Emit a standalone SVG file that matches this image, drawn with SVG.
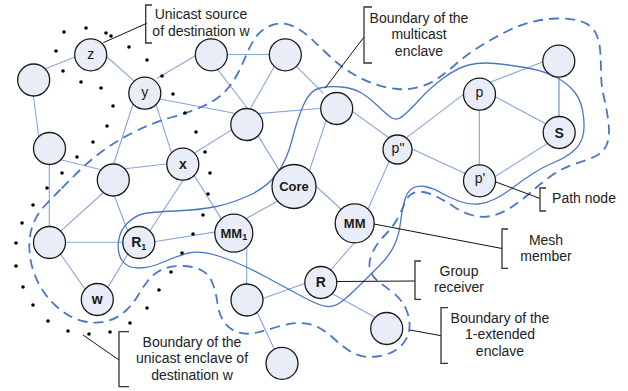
<svg xmlns="http://www.w3.org/2000/svg" width="628" height="391" viewBox="0 0 628 391">
  <style>
    .edge { stroke: #86a5da; stroke-width: 1.1; fill: none; stroke-linecap: round; }
    .edge-thick { stroke: #a7bde4; stroke-width: 2; fill: none; }
    .node { fill: #e8edf7; stroke: #1a1a1a; stroke-width: 1.3; }
    .lbl { font-family: "Liberation Sans", Arial, sans-serif; font-size: 14px; fill: #1a1a1a; text-anchor: middle; }
    .b { font-weight: bold; }
    .b13 { font-weight: bold; font-size: 13px; }
    .note { font-family: "Liberation Sans", Arial, sans-serif; font-size: 14px; fill: #222; text-anchor: middle; }
    .bracket { stroke: #333; stroke-width: 1.3; fill: none; }
    .pointer { stroke: #111; stroke-width: 1; fill: none; }
    .mc { stroke: #4a77c4; stroke-width: 1.3; fill: none; }
    .ext { stroke: #4a77c4; stroke-width: 1.8; fill: none; stroke-dasharray: 10 6; }
    .dot { fill: #000; }
  </style>

  <!-- links between nodes -->
  <g id="connectors">
    <line class="edge" x1="41.3" y1="70.5" x2="79" y2="55.2"/>
    <line class="edge" x1="32.8" y1="92" x2="38.8" y2="136.7"/>
    <line class="edge" x1="103.7" y1="54" x2="138" y2="84.3"/>
    <line class="edge" x1="157.6" y1="78" x2="200.1" y2="53"/>
    <line class="edge" x1="223" y1="54.5" x2="273.5" y2="54.5"/>
    <line class="edge" x1="214.3" y1="65.1" x2="250.7" y2="112.5"/>
    <line class="edge" x1="275.3" y1="64.8" x2="248" y2="112.8"/>
    <line class="edge" x1="293.9" y1="63.9" x2="322.8" y2="92.8"/>
    <line class="edge" x1="156" y1="98.2" x2="237" y2="113.8"/>
    <line class="edge" x1="257.7" y1="113.6" x2="325.7" y2="108"/>
    <line class="edge" x1="256.2" y1="132.6" x2="279.6" y2="170.9"/>
    <line class="edge" x1="193.3" y1="153.8" x2="240.1" y2="124.6"/>
    <line class="edge" x1="326.3" y1="120.2" x2="308.7" y2="172.8"/>
    <line class="edge" x1="348.5" y1="108.6" x2="390.7" y2="139"/>
    <line class="edge" x1="155.5" y1="102.9" x2="172.9" y2="157.1"/>
    <line class="edge" x1="132.9" y1="104.5" x2="112.1" y2="168.8"/>
    <line class="edge" x1="57.8" y1="159" x2="102.2" y2="170"/>
    <line class="edge" x1="125" y1="168.8" x2="170.7" y2="163.5"/>
    <line class="edge" x1="49.3" y1="160" x2="49.3" y2="230"/>
    <line class="edge" x1="111.9" y1="189.6" x2="128.1" y2="232"/>
    <line class="edge" x1="185.5" y1="176.7" x2="147.8" y2="234"/>
    <line class="edge" x1="192.9" y1="173.3" x2="222.1" y2="220.1"/>
    <line class="edge" x1="57" y1="234.4" x2="106.3" y2="190"/>
    <line class="edge" x1="62" y1="242.3" x2="126" y2="242.3"/>
    <line class="edge" x1="57.7" y1="250" x2="85.6" y2="290"/>
    <line class="edge" x1="130.4" y1="249.9" x2="106.2" y2="290.1"/>
    <line class="edge" x1="151" y1="242.3" x2="219" y2="231.4"/>
    <line class="edge" x1="243.2" y1="220.2" x2="280.2" y2="199.8"/>
    <line class="edge" x1="246.7" y1="246" x2="246.7" y2="290"/>
    <line class="edge" x1="313.5" y1="184" x2="342" y2="210"/>
    <line class="edge" x1="389.9" y1="159.6" x2="366.7" y2="212"/>
    <line class="edge" x1="357.6" y1="239" x2="328.9" y2="272"/>
    <line class="edge" x1="308.8" y1="282" x2="259.5" y2="299.7"/>
    <line class="edge" x1="328.2" y1="291.4" x2="378.5" y2="319.2"/>
    <line class="edge" x1="256.6" y1="311.4" x2="275.7" y2="351.9"/>
    <line class="edge" x1="406.8" y1="137.4" x2="468.2" y2="90.9"/>
    <line class="edge" x1="411.4" y1="148.8" x2="468.6" y2="175"/>
    <line class="edge" x1="488" y1="83.1" x2="547" y2="60.3"/>
    <line class="edge" x1="491.5" y1="94.8" x2="548.5" y2="125.2"/>
    <line class="edge" x1="479.3" y1="106" x2="479.3" y2="169"/>
    <line class="edge-thick" x1="559" y1="73" x2="559" y2="120"/>
    <line class="edge" x1="550.1" y1="141.9" x2="491.6" y2="178.8"/>
  </g>

  <!-- enclave boundaries -->
  <g id="boundaries">
    <path id="multicast-enclave" class="mc" d="M142.5,214 Q150,212 175,211 Q200,210 216.5,206.5 Q233,203 250,195 Q267,187 277,173.5 Q287,160 292,140 Q297,120 303.5,105 Q310,90 320,88 Q330,86 341.5,87 Q353,88 361.5,93 Q370,98 378.5,106.5 Q387,115 392,118 Q397,121 403.5,115.5 Q410,110 420,99 Q430,88 443.5,78 Q457,68 468.5,65 Q480,62 495,63.5 Q510,65 525,67.5 Q540,70 551.5,75 Q563,80 571.5,88.5 Q580,97 582.5,110 Q585,123 583.5,133 Q582,143 574.5,150 Q567,157 555,162 Q543,167 533,173.5 Q523,180 513,187.5 Q503,195 495,199 Q487,203 478.5,204 Q470,205 460,201.5 Q450,198 441.5,193 Q433,188 425,186.5 Q417,185 412,188.5 Q407,192 404.5,201 Q402,210 400.5,222.5 Q399,235 394.5,245 Q390,255 380,265 Q370,275 360,285 Q350,295 342.5,301 Q335,307 327.5,306.5 Q320,306 305,298 Q290,290 265,276.5 Q240,263 220,256.5 Q200,250 188.5,253 Q177,256 163.5,262 Q150,268 138.5,268 Q127,268 122,260.5 Q117,253 118.5,241.5 Q120,230 127.5,223 Q135,216 142.5,214 Z"/>
    <path id="extended-enclave" class="ext" d="M60.5,189.5 Q53,197 44.5,206 Q36,215 32,227.5 Q28,240 30,256 Q32,272 40,286 Q48,300 60,309.5 Q72,319 84.5,321.5 Q97,324 107.5,321 Q118,318 125.5,311 Q133,304 138,295.5 Q143,287 148.5,280 Q154,273 162,269.5 Q170,266 181.5,266 Q193,266 201,270 Q209,274 212.5,283 Q216,292 217.5,303.5 Q219,315 224.5,322.5 Q230,330 238.5,332.5 Q247,335 257,332.5 Q267,330 278.5,326.5 Q290,323 300,323 Q310,323 318.5,327.5 Q327,332 335,339.5 Q343,347 351.5,352 Q360,357 370,357 Q380,357 389,353.5 Q398,350 403.5,343 Q409,336 409.5,327 Q410,318 406,309 Q402,300 394,293.5 Q386,287 379,282 Q372,277 370,269.5 Q368,262 372.5,252.5 Q377,243 385,235 Q393,227 397.5,218.5 Q402,210 404.5,203.5 Q407,197 411.5,194 Q416,191 423,192 Q430,193 437.5,197 Q445,201 453.5,206.5 Q462,212 471.5,215 Q481,218 491,216 Q501,214 511,207.5 Q521,201 530.5,192.5 Q540,184 551,176 Q562,168 575,164 Q588,160 596,156 Q604,152 607,144 Q610,136 608.5,123 Q607,110 604,97.5 Q601,85 601,72.5 Q601,60 600,49 Q599,38 594.5,31 Q590,24 580,21 Q570,18 556.5,18.5 Q543,19 530,22.5 Q517,26 503.5,33 Q490,40 477.5,48 Q465,56 456,64 Q447,72 438.5,78 Q430,84 419.5,87 Q409,90 397.5,89 Q386,88 374.5,84 Q363,80 351.5,73 Q340,66 330,56.5 Q320,47 311.5,39 Q303,31 295,27 Q287,23 279.5,23.5 Q272,24 265.5,28 Q259,32 254.5,39 Q250,46 246.5,54.5 Q243,63 238,73 Q233,83 225,91.5 Q217,100 203.5,106 Q190,112 171,117.5 Q152,123 135,131.5 Q118,140 104,150 Q90,160 79,171 Q68,182 60.5,189.5 Z"/>
    <g id="unicast-enclave">
      <circle class="dot" cx="64" cy="32" r="1.8"/>
      <circle class="dot" cx="86" cy="28" r="1.8"/>
      <circle class="dot" cx="106" cy="33" r="1.8"/>
      <circle class="dot" cx="111" cy="36" r="1.8"/>
      <circle class="dot" cx="129" cy="47" r="1.8"/>
      <circle class="dot" cx="147" cy="60" r="1.8"/>
      <circle class="dot" cx="162" cy="76" r="1.8"/>
      <circle class="dot" cx="173" cy="94" r="1.8"/>
      <circle class="dot" cx="185" cy="113" r="1.8"/>
      <circle class="dot" cx="196" cy="132" r="1.8"/>
      <circle class="dot" cx="205" cy="152" r="1.8"/>
      <circle class="dot" cx="210" cy="173" r="1.8"/>
      <circle class="dot" cx="208" cy="194" r="1.8"/>
      <circle class="dot" cx="203" cy="215" r="1.8"/>
      <circle class="dot" cx="193" cy="234" r="1.8"/>
      <circle class="dot" cx="182" cy="253" r="1.8"/>
      <circle class="dot" cx="171" cy="272" r="1.8"/>
      <circle class="dot" cx="159" cy="290" r="1.8"/>
      <circle class="dot" cx="147" cy="308" r="1.8"/>
      <circle class="dot" cx="130" cy="323" r="1.8"/>
      <circle class="dot" cx="110" cy="332" r="1.8"/>
      <circle class="dot" cx="89" cy="334" r="1.8"/>
      <circle class="dot" cx="68" cy="331" r="1.8"/>
      <circle class="dot" cx="48" cy="321" r="1.8"/>
      <circle class="dot" cx="33" cy="305" r="1.8"/>
      <circle class="dot" cx="23" cy="287" r="1.8"/>
      <circle class="dot" cx="16" cy="266" r="1.8"/>
      <circle class="dot" cx="16" cy="243" r="1.8"/>
      <circle class="dot" cx="22" cy="223" r="1.8"/>
      <circle class="dot" cx="33" cy="205" r="1.8"/>
      <circle class="dot" cx="47" cy="188" r="1.8"/>
      <circle class="dot" cx="62" cy="173" r="1.8"/>
      <circle class="dot" cx="77" cy="157" r="1.8"/>
      <circle class="dot" cx="93" cy="142" r="1.8"/>
      <circle class="dot" cx="107" cy="126" r="1.8"/>
      <circle class="dot" cx="113" cy="106" r="1.8"/>
      <circle class="dot" cx="101" cy="88" r="1.8"/>
      <circle class="dot" cx="81" cy="82" r="1.8"/>
      <circle class="dot" cx="63" cy="71" r="1.8"/>
      <circle class="dot" cx="56" cy="51" r="1.8"/>
    </g>
  </g>

  <!-- nodes -->
  <g id="node-a"><circle class="node" cx="33.7" cy="80" r="16"/></g>
  <g id="node-z"><circle class="node" cx="90.7" cy="54.8" r="16"/><text class="lbl" x="90.7" y="59.3">z</text></g>
  <g id="node-y"><circle class="node" cx="144.8" cy="93.2" r="16"/><text class="lbl" x="144.8" y="96.5">y</text></g>
  <g id="node-t"><circle class="node" cx="211.3" cy="54.8" r="16"/></g>
  <g id="node-d"><circle class="node" cx="285.3" cy="54.8" r="16"/></g>
  <g id="node-e"><circle class="node" cx="246.8" cy="124.5" r="16"/></g>
  <g id="node-f"><circle class="node" cx="336.7" cy="108.5" r="16"/></g>
  <g id="node-b"><circle class="node" cx="49.5" cy="148.5" r="16"/></g>
  <g id="node-c"><circle class="node" cx="113.3" cy="180" r="16"/></g>
  <g id="node-x"><circle class="node" cx="182.8" cy="164.2" r="16"/><text class="lbl b" x="182.8" y="168.6">x</text></g>
  <g id="node-p2"><circle class="node" cx="397.5" cy="149.5" r="14.5"/><text class="lbl" x="398" y="152.6">p"</text></g>
  <g id="node-core"><circle class="node" cx="294" cy="186.5" r="22"/><text class="lbl b13" x="294" y="191">Core</text></g>
  <g id="node-g"><circle class="node" cx="558.8" cy="61.2" r="16"/></g>
  <g id="node-p"><circle class="node" cx="479.5" cy="94.2" r="16"/><text class="lbl" x="479.5" y="96.8">p</text></g>
  <g id="node-s"><circle class="node" cx="559.2" cy="132.5" r="16"/><text class="lbl b" x="559.2" y="137.7">S</text></g>
  <g id="node-p1"><circle class="node" cx="479.5" cy="180.8" r="16"/><text class="lbl" x="480" y="183.3">p'</text></g>
  <g id="node-h"><circle class="node" cx="49.5" cy="242.5" r="16"/></g>
  <g id="node-r1"><circle class="node" cx="138.8" cy="242.5" r="16"/><text class="lbl b" x="138.8" y="247.3">R<tspan font-size="9" dy="2.5">1</tspan></text></g>
  <g id="node-w"><circle class="node" cx="97.3" cy="299.5" r="16"/><text class="lbl b" font-size="11" x="97.3" y="303.8">w</text></g>
  <g id="node-mm1"><circle class="node" cx="233.8" cy="233.2" r="19"/><text class="lbl b13" x="233.8" y="237.8">MM<tspan font-size="9" dy="2.5">1</tspan></text></g>
  <g id="node-mm"><circle class="node" cx="354.7" cy="223.3" r="19.5"/><text class="lbl b13" x="354.7" y="228">MM</text></g>
  <g id="node-r"><circle class="node" cx="320.8" cy="282.5" r="16"/><text class="lbl b" x="320.8" y="287.2">R</text></g>
  <g id="node-i"><circle class="node" cx="247" cy="300" r="16"/></g>
  <g id="node-j"><circle class="node" cx="386.7" cy="328.5" r="16"/></g>
  <g id="node-k"><circle class="node" cx="282" cy="363.3" r="16"/></g>

  <!-- callouts -->
  <g id="callouts">
    <path class="pointer" d="M146.7,23.3 L103.3,42.7"/>
    <path class="bracket" d="M152,5 H145.7 V43 H152"/>
    <text class="note" x="201" y="19">Unicast source</text>
    <text class="note" x="201" y="35.5">of destination w</text>

    <path class="pointer" d="M364,37 L325,88.3"/>
    <path class="bracket" d="M372,7 H364 V63 H372"/>
    <text class="note" x="419" y="22.5">Boundary of the</text>
    <text class="note" x="419" y="39">multicast</text>
    <text class="note" x="419" y="55.5">enclave</text>

    <path class="pointer" d="M496,182 L540,198.5"/>
    <path class="bracket" d="M546,188 H540 V211 H546"/>
    <text class="note" x="584" y="203.3">Path node</text>

    <path class="pointer" d="M374,224 L502,248.5"/>
    <path class="bracket" d="M508,229 H502 V268.3 H508"/>
    <text class="note" x="546" y="245">Mesh</text>
    <text class="note" x="546" y="260.7">member</text>

    <path class="pointer" d="M337,281.5 L415,281"/>
    <path class="bracket" d="M421,261 H415 V299.3 H421"/>
    <text class="note" x="459" y="275.7">Group</text>
    <text class="note" x="459" y="291.7">receiver</text>

    <path class="pointer" d="M410,330 L441,335.7"/>
    <path class="bracket" d="M448,307.7 H441 V363.3 H448"/>
    <text class="note" x="500" y="322.7">Boundary of the</text>
    <text class="note" x="500" y="339">1-extended</text>
    <text class="note" x="500" y="355.7">enclave</text>

    <path class="pointer" d="M83,335 L119,360"/>
    <path class="bracket" d="M129,331.7 H119 V386.7 H129"/>
    <text class="note" x="192" y="346.7">Boundary of the</text>
    <text class="note" x="192" y="363.3">unicast enclave of</text>
    <text class="note" x="192" y="379.5">destination w</text>
  </g>
</svg>
